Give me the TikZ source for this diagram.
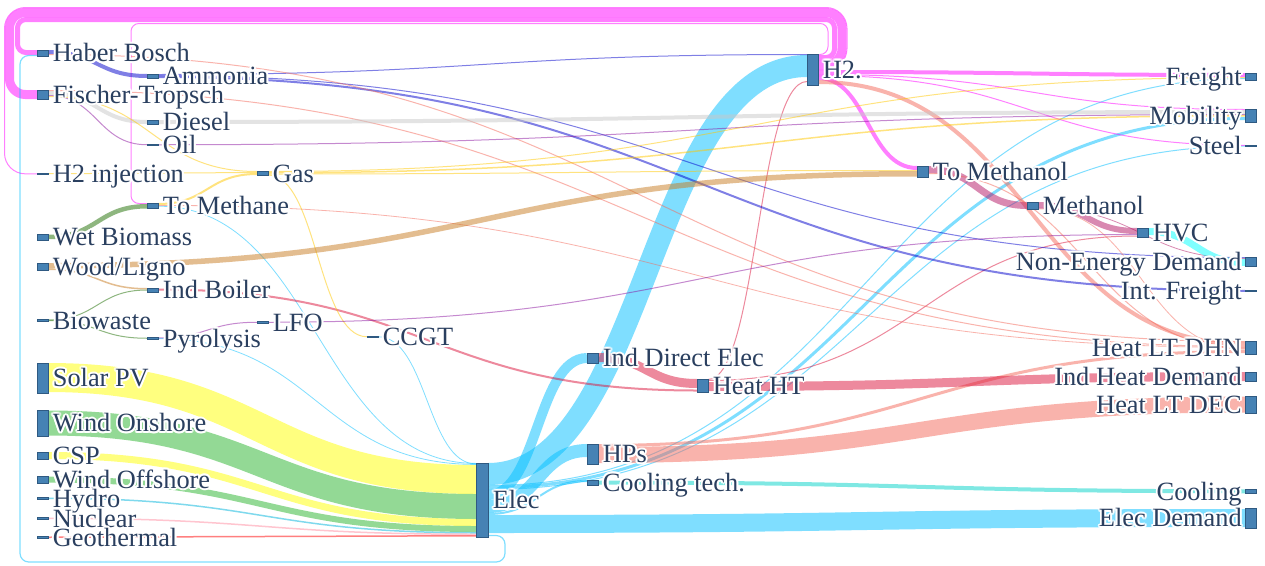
\documentclass[tikz,border=0pt]{standalone}
\usepackage{fontspec}
\setmainfont{Liberation Serif}
\usepackage[copies]{contour}
\contourlength{1.1pt}
\contournumber{12}
\usetikzlibrary{calc}
\definecolor{cH}{RGB}{255,0,255}
\definecolor{cE}{RGB}{0,191,255}
\definecolor{cSol}{RGB}{255,255,0}
\definecolor{cWind}{RGB}{40,180,45}
\definecolor{cGas}{RGB}{255,200,0}
\definecolor{cWood}{RGB}{200,125,35}
\definecolor{cBio}{RGB}{30,110,0}
\definecolor{cOil}{RGB}{140,20,160}
\definecolor{cDsl}{RGB}{200,200,200}
\definecolor{cAmm}{RGB}{0,0,205}
\definecolor{cLT}{RGB}{245,105,90}
\definecolor{cHT}{RGB}{220,20,60}
\definecolor{cMeo}{RGB}{180,20,100}
\definecolor{cCool}{RGB}{0,210,200}
\definecolor{cHVC}{RGB}{0,255,255}
\definecolor{cNuc}{RGB}{255,140,160}
\definecolor{cGeo}{RGB}{255,0,0}
\definecolor{cHyd}{RGB}{0,180,220}
\definecolor{nodeF}{RGB}{70,130,180}
\definecolor{nodeD}{RGB}{47,90,130}
\definecolor{txt}{RGB}{42,63,95}
% node: name, x left, y top, height (px)
\newcommand\nd[4]{\node[nbox, minimum height=#4*0.2mm] (#1) at (#2,#3) {};}
% label right of node / left of node (white halo as in the reference)
\newcommand\lbR[2]{\node[lab, anchor=base west] (#1-l) at ([xshift=0.9mm,yshift=-5pt]#1.east) {\contour{white}{#2}};}
\newcommand\lbL[2]{\node[lab, anchor=base east] (#1-l) at ([xshift=-0.6mm,yshift=-5pt]#1.west) {\contour{white}{#2}};}
% link: style, width px, source, offset from source top, target, offset from target top
\newcommand\lk[6]{\draw[#1, line width=#2*0.2mm] let \p1=($(#3.north east)+(0,#4)$), \p2=($(#5.north west)+(0,#6)$) in (\p1) .. controls ({0.5*\x1+0.5*\x2},\y1) and ({0.5*\x1+0.5*\x2},\y2) .. (\p2);}
\begin{document}
\begin{tikzpicture}[x=0.2mm,y=-0.2mm,
  nbox/.style={draw=nodeD, fill=nodeF, line width=0.4pt, inner sep=0pt, outer sep=0pt, minimum width=2.2mm, anchor=north west},
  lab/.style={text=txt, inner sep=0pt, font=\fontsize{15}{18}\selectfont},
  lkH/.style={draw=cH, draw opacity=0.5},
  lkE/.style={draw=cE, draw opacity=0.5},
  lkSol/.style={draw=cSol, draw opacity=0.5},
  lkWind/.style={draw=cWind, draw opacity=0.5},
  lkGas/.style={draw=cGas, draw opacity=0.5},
  lkWood/.style={draw=cWood, draw opacity=0.5},
  lkBio/.style={draw=cBio, draw opacity=0.5},
  lkOil/.style={draw=cOil, draw opacity=0.5},
  lkDsl/.style={draw=cDsl, draw opacity=0.5},
  lkAmm/.style={draw=cAmm, draw opacity=0.5},
  lkLT/.style={draw=cLT, draw opacity=0.5},
  lkHT/.style={draw=cHT, draw opacity=0.5},
  lkMeo/.style={draw=cMeo, draw opacity=0.5},
  lkCool/.style={draw=cCool, draw opacity=0.5},
  lkHVC/.style={draw=cHVC, draw opacity=0.5},
  lkNuc/.style={draw=cNuc, draw opacity=0.5},
  lkGeo/.style={draw=cGeo, draw opacity=0.5},
  lkHyd/.style={draw=cHyd, draw opacity=0.5}]
\fill[white] (0,0) rectangle (1265,565);
\useasboundingbox (0,0) rectangle (1265,565);
% ---------- nodes ----------
\nd{hb}{37}{50}{6}
\nd{ft}{37}{90}{9}
\nd{hinj}{37}{173}{1.5}
\nd{wet}{37}{234}{6}
\nd{wood}{37}{263}{7}
\nd{biow}{37}{319.5}{1.5}
\nd{solar}{37}{363}{30}
\nd{won}{37}{410}{26}
\nd{csp}{37}{452}{7}
\nd{woff}{37}{476}{7}
\nd{hydro}{37}{497.5}{1.5}
\nd{nuc}{37}{517.5}{1.5}
\nd{geo}{37}{536.5}{1.5}
\nd{amm}{147}{74}{4}
\nd{dies}{147}{120}{4}
\nd{oil}{147}{144}{1.5}
\nd{tmeth}{147}{203}{5.5}
\nd{indb}{147}{288}{4}
\nd{pyro}{147}{337.5}{1.5}
\nd{gas}{257}{171}{4.5}
\nd{lfo}{257}{321.5}{1.5}
\nd{ccgt}{367}{336}{1.5}
\node[nbox, minimum height=74*0.2mm, minimum width=2.4mm] (elec) at (476,463) {};
\nd{ind}{587}{353}{10}
\nd{hps}{587}{444}{20}
\nd{coolt}{587}{480}{5}
\nd{heatht}{697}{379}{13}
\nd{h2}{807}{54}{31}
\nd{tmol}{917}{166}{11}
\nd{meth}{1027}{202}{7}
\nd{hvc}{1137}{228}{9}
\nd{freight}{1245}{73}{7}
\nd{mob}{1245}{109}{13}
\nd{steel}{1245}{145}{1.5}
\nd{ned}{1245}{257}{9}
\nd{intf}{1245}{290}{1.5}
\nd{dhn}{1245}{341}{13}
\nd{ihd}{1245}{372}{9}
\nd{dec}{1245}{396}{17}
\nd{cool}{1245}{489}{4.5}
\nd{edem}{1245}{508}{20}
% ---------- links ----------
% loops (cycles drawn round the outside)
\draw[lkH, line width=9*0.2mm, rounded corners=9pt] ($(h2.north east)+(0,10.5)$) -- (842,64.5) -- (842,12.5) -- (9.5,12.5) -- (9.5,94.5) -- ($(ft.north west)+(0,4.5)$);
\draw[lkH, line width=5*0.2mm, rounded corners=4.8pt] ($(h2.north east)+(0,3.5)$) -- (834.5,57.5) -- (834.5,19.5) -- (17.5,19.5) -- (17.5,52.5) -- ($(hb.north west)+(0,2.5)$);
\draw[lkH, line width=0.2mm, rounded corners=11.9pt] ($(h2.north east)+(0,15.5)$) -- (847,69.5) -- (847,7.5) -- (4.5,7.5) -- (4.5,174) -- ($(hinj.north west)+(0,0.75)$);
\draw[lkH, line width=0.2mm, rounded corners=4.5pt] ($(h2.north east)+(0,0.5)$) -- (828,54.5) -- (828,23.5) -- (131,23.5) -- (131,203.5) -- ($(tmeth.north west)+(0,0.5)$);
\draw[lkE, line width=1.2*0.2mm, rounded corners=5pt] ($(elec.north east)+(0,72.5)$) -- (505,535.5) -- (505,562) -- (20,562) -- (20,55.5) -- ($(hb.north west)+(0,5.5)$);
% into Elec
\lk{lkSol}{29}{solar}{14.5}{elec}{16.5}
\lk{lkWind}{25}{won}{13}{elec}{43.5}
\lk{lkSol}{7}{csp}{3.5}{elec}{59.5}
\lk{lkWind}{6}{woff}{3.5}{elec}{66}
\lk{lkHyd}{1.5}{hydro}{0.75}{elec}{69.75}
\lk{lkNuc}{1.5}{nuc}{0.75}{elec}{71.25}
\lk{lkGeo}{1.5}{geo}{0.75}{elec}{72.75}
\lk{lkE}{0.8}{tmeth}{3.2}{elec}{0.4}
\lk{lkE}{0.8}{ccgt}{0.75}{elec}{0.9}
\lk{lkE}{0.8}{pyro}{1.1}{elec}{1.4}
% out of Elec
\lk{lkE}{22}{elec}{11}{h2}{12}
\lk{lkE}{1}{elec}{22.5}{freight}{5.5}
\lk{lkE}{3}{elec}{24.5}{mob}{9.5}
\lk{lkE}{1}{elec}{26.5}{steel}{1.2}
\lk{lkE}{10}{elec}{32}{ind}{5}
\lk{lkE}{13}{elec}{43.5}{hps}{6.5}
\lk{lkE}{2}{elec}{51}{coolt}{1}
\lk{lkE}{18}{elec}{61}{edem}{10}
% heat
\lk{lkLT}{3}{hps}{1.5}{dhn}{10.5}
\lk{lkLT}{16}{hps}{11}{dec}{8.5}
\lk{lkCool}{4}{coolt}{2.5}{cool}{2.25}
\lk{lkHT}{9}{ind}{4.5}{heatht}{4.5}
\lk{lkHT}{2}{indb}{1.5}{heatht}{11.5}
\lk{lkHT}{1}{heatht}{0.5}{h2}{27.5}
\lk{lkHT}{1}{heatht}{1.5}{hvc}{8}
\lk{lkHT}{9}{heatht}{7.5}{ihd}{4.5}
% hydrogen
\lk{lkH}{4}{h2}{18}{freight}{2}
\lk{lkH}{1}{h2}{20.5}{mob}{0.5}
\lk{lkH}{1}{h2}{21.5}{steel}{0.3}
\lk{lkH}{4}{h2}{24}{tmol}{2}
\lk{lkLT}{4}{h2}{28}{dhn}{3}
% ammonia
\lk{lkAmm}{4}{hb}{2}{amm}{2}
\lk{lkAmm}{1}{amm}{0.5}{h2}{0.5}
\lk{lkAmm}{1}{amm}{1.5}{ned}{0.5}
\lk{lkAmm}{2}{amm}{3}{intf}{0.75}
\lk{lkLT}{1}{hb}{4.5}{dhn}{0.5}
% Fischer-Tropsch and fuels
\lk{lkLT}{1}{ft}{0.5}{dhn}{5.5}
\lk{lkDsl}{4}{ft}{3}{dies}{2}
\lk{lkOil}{1}{ft}{5.5}{oil}{0.75}
\lk{lkGas}{1}{ft}{6.5}{gas}{0.5}
\lk{lkDsl}{4}{dies}{2}{mob}{3}
\lk{lkOil}{1}{oil}{0.75}{mob}{5.5}
\lk{lkGas}{1}{hinj}{0.75}{gas}{1.5}
\lk{lkGas}{2}{tmeth}{1}{gas}{3}
\lk{lkLT}{0.8}{tmeth}{2.4}{dhn}{6.4}
\lk{lkGas}{1}{gas}{0.5}{freight}{4.5}
\lk{lkGas}{1.5}{gas}{1.75}{mob}{6.75}
\lk{lkGas}{1}{gas}{3}{tmol}{4.5}
\lk{lkGas}{1}{gas}{4}{ccgt}{0.75}
% biomass
\lk{lkBio}{4.5}{wet}{3}{tmeth}{3.25}
\lk{lkWood}{5.5}{wood}{2.75}{tmol}{7.75}
\lk{lkWood}{1.5}{wood}{6.25}{indb}{0.75}
\lk{lkBio}{1}{biow}{0.4}{indb}{2}
\lk{lkBio}{1}{biow}{1.1}{pyro}{0.75}
\lk{lkOil}{1}{pyro}{0.4}{lfo}{0.75}
\lk{lkOil}{1}{lfo}{0.75}{hvc}{6.5}
% methanol chain
\lk{lkMeo}{7}{tmol}{3.5}{meth}{3.5}
\lk{lkLT}{1}{tmol}{7.5}{dhn}{7.3}
\lk{lkMeo}{6}{meth}{3}{hvc}{3}
\lk{lkMeo}{0.8}{meth}{6.3}{ned}{1.5}
\lk{lkLT}{0.8}{meth}{6.9}{dhn}{8.3}
\lk{lkHVC}{7}{hvc}{3.5}{ned}{5.5}
% ---------- node boxes on top of links ----------
\foreach \n in {hb,ft,hinj,wet,wood,biow,solar,won,csp,woff,hydro,nuc,geo,amm,dies,oil,tmeth,indb,pyro,gas,lfo,ccgt,elec,ind,hps,coolt,heatht,h2,tmol,meth,hvc,freight,mob,steel,ned,intf,dhn,ihd,dec,cool,edem}
  {\draw[draw=nodeD, fill=nodeF, line width=0.4pt] (\n.north west) rectangle (\n.south east);}
% ---------- labels ----------
\lbR{hb}{Haber Bosch}
\lbR{ft}{Fischer-Tropsch}
\lbR{hinj}{H2 injection}
\lbR{wet}{Wet Biomass}
\lbR{wood}{Wood/Ligno}
\lbR{biow}{Biowaste}
\lbR{solar}{Solar PV}
\lbR{won}{Wind Onshore}
\lbR{csp}{CSP}
\lbR{woff}{Wind Offshore}
\lbR{hydro}{Hydro}
\lbR{nuc}{Nuclear}
\lbR{geo}{Geothermal}
\lbR{amm}{Ammonia}
\lbR{dies}{Diesel}
\lbR{oil}{Oil}
\lbR{tmeth}{To Methane}
\lbR{indb}{Ind Boiler}
\lbR{pyro}{Pyrolysis}
\lbR{gas}{Gas}
\lbR{lfo}{LFO}
\lbR{ccgt}{CCGT}
\lbR{elec}{Elec}
\lbR{ind}{Ind Direct Elec}
\lbR{hps}{HPs}
\lbR{coolt}{Cooling tech.}
\lbR{heatht}{Heat HT}
\lbR{h2}{H2.}
\lbR{tmol}{To Methanol}
\lbR{meth}{Methanol}
\lbR{hvc}{HVC}
\lbL{freight}{Freight}
\lbL{mob}{Mobility}
\lbL{steel}{Steel}
\lbL{ned}{Non-Energy Demand}
\lbL{intf}{Int. Freight}
\lbL{dhn}{Heat LT DHN}
\lbL{ihd}{Ind Heat Demand}
\lbL{dec}{Heat LT DEC}
\lbL{cool}{Cooling}
\lbL{edem}{Elec Demand}
\end{tikzpicture}
\end{document}
